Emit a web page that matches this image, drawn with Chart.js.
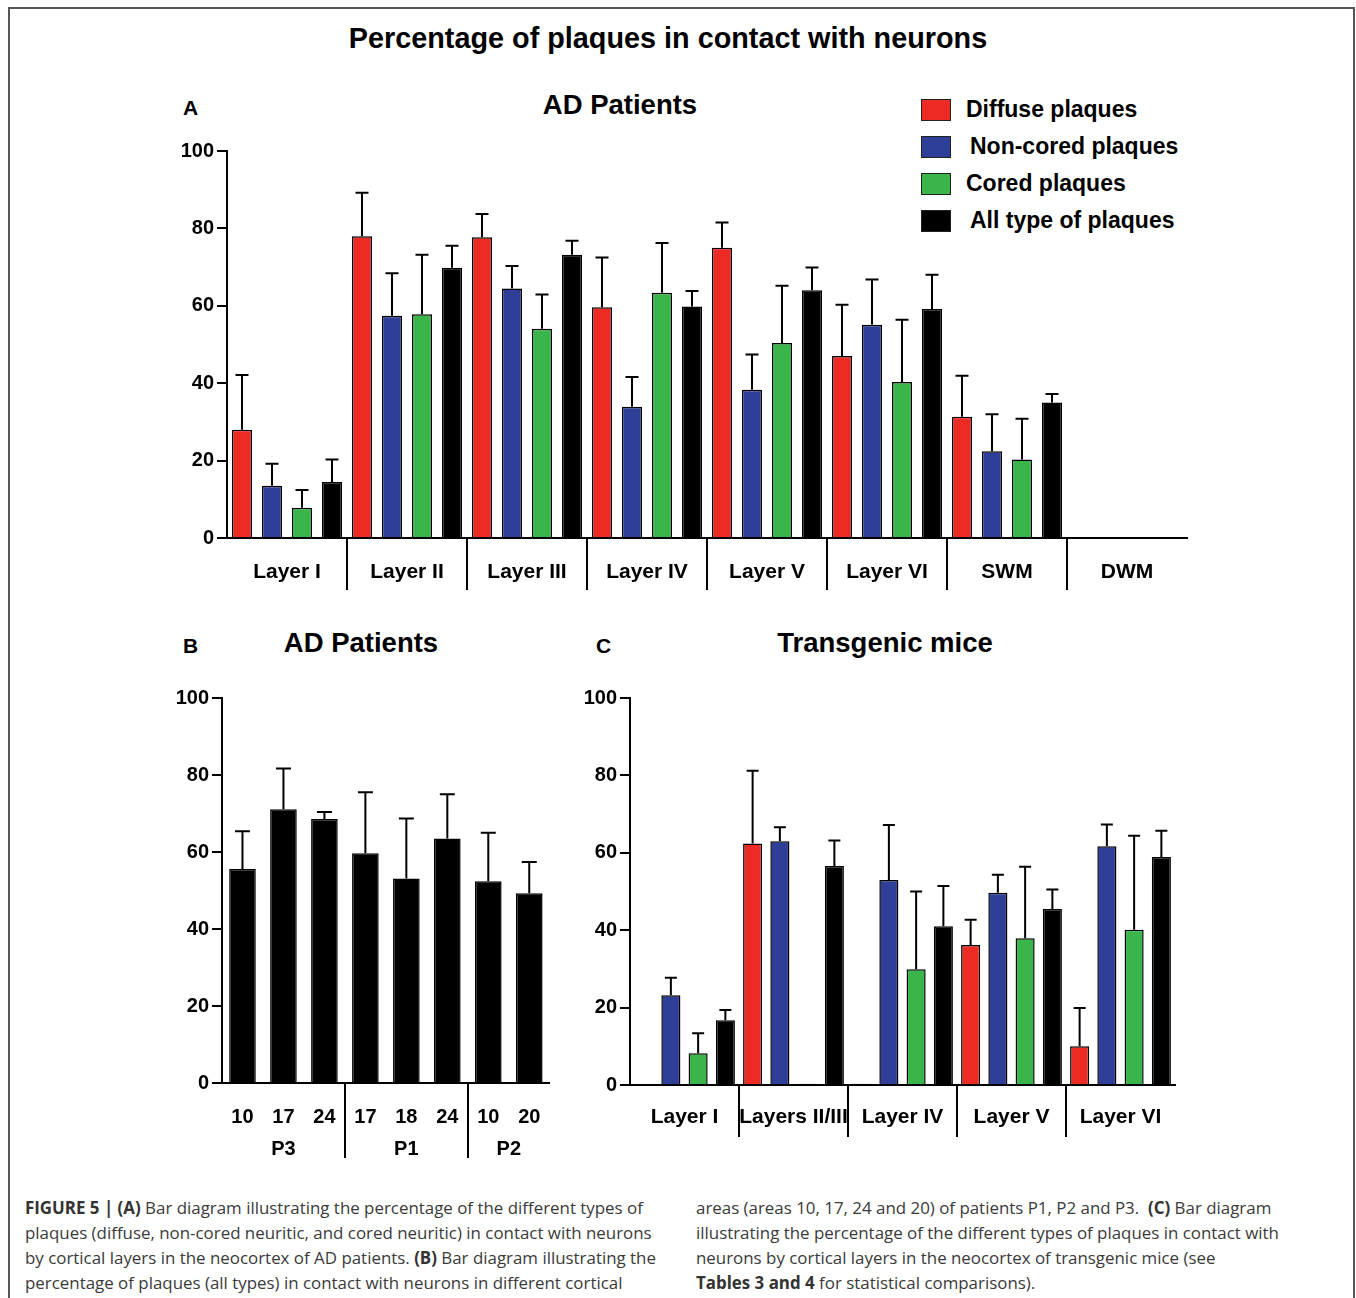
<!DOCTYPE html>
<html>
<head>
<meta charset="utf-8">
<script src="https://cdn.jsdelivr.net/npm/chart.js@4.4.1/dist/chart.umd.min.js"></script>
<style>
  body { margin: 0; background: #fff; }
  #page { position: relative; width: 1356px; height: 1298px; overflow: hidden; font-family: "Liberation Sans", Arial, sans-serif; }
  .frame { position: absolute; left: 8px; top: 7px; width: 1343px; height: 1400px; border: 2px solid #555; }
  .t { position: absolute; font-weight: bold; color: #000; white-space: nowrap; }
  .mid { transform: translateX(-50%); }
  canvas { position: absolute; }
  .leg { position: absolute; left: 921px; }
  .leg i { position: absolute; left: 0; width: 28px; height: 20px; border: 1.5px solid #222; }
  .leg span { position: absolute; left: 45px; top: -1px; font: bold 23px/23px "Liberation Sans", Arial, sans-serif; white-space: nowrap; }
  .cap { position: absolute; font-family: "Open Sans", sans-serif; font-size: 16.9px; line-height: 25px; color: #3a3a3a; white-space: nowrap; }
  .cap b { color: #333; }
</style>
</head>
<body>
<div id="page">
  <div class="frame"></div>

  <div class="t mid" style="left:668px;top:24px;font-size:28.8px;line-height:28px">Percentage of plaques in contact with neurons</div>

  <div class="t" style="left:183px;top:97px;font-size:21px;line-height:21px">A</div>
  <div class="t mid" style="left:620px;top:92px;font-size:27.5px;line-height:26px">AD Patients</div>
  <div id="legendA"></div>

  <div class="t" style="left:183px;top:635px;font-size:21px;line-height:21px">B</div>
  <div class="t mid" style="left:361px;top:630px;font-size:27.5px;line-height:26px">AD Patients</div>

  <div class="t" style="left:596px;top:635px;font-size:21px;line-height:21px">C</div>
  <div class="t mid" style="left:885px;top:630px;font-size:27.5px;line-height:26px">Transgenic mice</div>

  <canvas id="chartA" width="1050" height="473" style="left:150px;top:136px"></canvas>
  <canvas id="chartB" width="413" height="483" style="left:150px;top:683px"></canvas>
  <canvas id="chartC" width="625" height="473" style="left:560px;top:683px"></canvas>

  <div class="cap" style="left:25px;top:1195px">
    <b>FIGURE 5 | (A)</b> Bar diagram illustrating the percentage of the different types of<br>
    plaques (diffuse, non-cored neuritic, and cored neuritic) in contact with neurons<br>
    by cortical layers in the neocortex of AD patients. <b>(B)</b> Bar diagram illustrating the<br>
    percentage of plaques (all types) in contact with neurons in different cortical
  </div>
  <div class="cap" style="left:696px;top:1195px">
    areas (areas 10, 17, 24 and 20) of patients P1, P2 and P3.&nbsp; <b>(C)</b> Bar diagram<br>
    illustrating the percentage of the different types of plaques in contact with<br>
    neurons by cortical layers in the neocortex of transgenic mice (see<br>
    <b>Tables 3 and 4</b> for statistical comparisons).
  </div>
</div>

<script>
const seriesNames  = ['Diffuse plaques', 'Non-cored plaques', 'Cored plaques', 'All type of plaques'];
const seriesColors = ['#ec2b25', '#2f3f97', '#3ab54a', '#000000'];
const yTicks = [0, 20, 40, 60, 80, 100];

// A - AD patients by layer (bar = mean, top = end of error bar)
const aLayers      = ['Layer I', 'Layer II', 'Layer III', 'Layer IV', 'Layer V', 'Layer VI', 'SWM', 'DWM'];
const aDiffuse     = [28.0, 78.0, 77.7, 59.6, 75.0, 47.0, 31.3, null];
const aDiffuseTop  = [42.1, 89.2, 83.7, 72.5, 81.5, 60.3, 41.9, null];
const aNonCored    = [13.5, 57.4, 64.5, 33.9, 38.3, 55.1, 22.4, null];
const aNonCoredTop = [19.2, 68.4, 70.3, 41.6, 47.4, 66.8, 32.0, null];
const aCored       = [7.8, 57.8, 54.1, 63.4, 50.4, 40.3, 20.3, null];
const aCoredTop    = [12.4, 73.2, 62.9, 76.2, 65.2, 56.4, 30.8, null];
const aAll         = [14.5, 69.8, 73.2, 59.8, 64.0, 59.2, 35.0, null];
const aAllTop      = [20.3, 75.5, 76.8, 63.8, 69.9, 68.0, 37.2, null];

// B - AD patients by cortical area
const bAreas     = ['10', '17', '24', '17', '18', '24', '10', '20'];
const bPatients  = ['P3', 'P1', 'P2'];
const bPatientOf = [0, 0, 0, 1, 1, 1, 2, 2];
const bAll       = [55.6, 71.1, 68.6, 59.7, 53.1, 63.5, 52.4, 49.3];
const bAllTop    = [65.4, 81.7, 70.4, 75.5, 68.7, 75.0, 65.0, 57.4];

// C - transgenic mice by layer
const cLayers      = ['Layer I', 'Layers II/III', 'Layer IV', 'Layer V', 'Layer VI'];
const cDiffuse     = [null, 62.4, 0.3, 36.2, 10.0];
const cDiffuseTop  = [null, 81.2, null, 42.7, 19.9];
const cNonCored    = [23.2, 63.0, 53.0, 49.7, 61.7];
const cNonCoredTop = [27.7, 66.6, 67.2, 54.3, 67.3];
const cCored       = [8.2, 0.3, 29.9, 37.9, 40.1];
const cCoredTop    = [13.4, null, 50.0, 56.4, 64.4];
const cAll         = [16.7, 56.6, 41.0, 45.5, 58.9];
const cAllTop      = [19.4, 63.2, 51.4, 50.5, 65.7];

Chart.defaults.font.family = '"Liberation Sans", Arial, sans-serif';
Chart.defaults.font.weight = 'bold';
Chart.defaults.color = '#000';
Chart.defaults.animation = false;

// legend for A (html)
document.getElementById('legendA').innerHTML = seriesNames.map((n, i) =>
  `<div class="leg" style="top:${99 + i * 37}px"><i style="background:${seriesColors[i]}"></i><span style="left:${i % 2 ? 49 : 45}px">${n}</span></div>`
).join('');

// upward error bars
const errorBars = {
  id: 'errorBars',
  afterDatasetsDraw(chart, args, opts) {
    const ctx = chart.ctx, y = chart.scales.y;
    chart.data.datasets.forEach((ds, i) => {
      if (!ds.tops) return;
      chart.getDatasetMeta(i).data.forEach((bar, j) => {
        const top = ds.tops[j];
        if (ds.data[j] == null || top == null) return;
        const py = y.getPixelForValue(top);
        ctx.save();
        ctx.strokeStyle = '#000';
        ctx.lineWidth = 2;
        ctx.beginPath();
        ctx.moveTo(bar.x, bar.y);
        ctx.lineTo(bar.x, py);
        ctx.moveTo(bar.x - opts.cap, py);
        ctx.lineTo(bar.x + opts.cap, py);
        ctx.stroke();
        ctx.restore();
      });
    });
  }
};

// vertical separators under the x axis
const separators = {
  id: 'separators',
  afterDraw(chart, args, opts) {
    const x = chart.scales.x, ctx = chart.ctx, b = chart.chartArea.bottom;
    ctx.save();
    ctx.strokeStyle = '#000';
    ctx.lineWidth = 2;
    opts.at.forEach(i => {
      const px = Math.round((x.getPixelForTick(i - 1) + x.getPixelForTick(i)) / 2);
      ctx.beginPath();
      ctx.moveTo(px, b);
      ctx.lineTo(px, b + opts.length);
      ctx.stroke();
    });
    ctx.restore();
  }
};

// second label row (patients) for B
const groupLabels = {
  id: 'groupLabels',
  afterDraw(chart, args, opts) {
    if (!opts.names) return;
    const x = chart.scales.x, ctx = chart.ctx;
    ctx.save();
    ctx.font = 'bold 20px "Liberation Sans", Arial, sans-serif';
    ctx.fillStyle = '#000';
    ctx.textAlign = 'center';
    ctx.textBaseline = 'middle';
    opts.names.forEach((name, g) => {
      const idx = opts.groupOf.map((v, i) => v === g ? i : -1).filter(i => i >= 0);
      const cx = (x.getPixelForTick(idx[0]) + x.getPixelForTick(idx[idx.length - 1])) / 2;
      ctx.fillText(name, cx, chart.chartArea.bottom + opts.offset);
    });
    ctx.restore();
  }
};

function bars(label, data, tops, color, bp) {
  return { label, data, tops, backgroundColor: color, borderColor: '#000', borderWidth: 1.5,
           barPercentage: bp, categoryPercentage: 1.0 };
}

function opts(yWidth, xHeight, padRight, labelPad, labelSize, extra) {
  return {
    responsive: false,
    layout: { padding: { top: 10, right: padRight, left: 0, bottom: 0 } },
    plugins: Object.assign({ legend: { display: false }, tooltip: { enabled: false } }, extra),
    scales: {
      x: {
        grid: { display: false, drawTicks: false },
        border: { display: true, color: '#000', width: 2 },
        ticks: { font: { size: labelSize, weight: 'bold' }, padding: labelPad, maxRotation: 0, autoSkip: false },
        afterFit: s => { s.height = xHeight; }
      },
      y: {
        min: 0, max: 100,
        afterBuildTicks: s => { s.ticks = yTicks.map(v => ({ value: v })); },
        grid: { drawOnChartArea: false, drawTicks: true, tickLength: 10, color: '#000', lineWidth: 2 },
        border: { display: true, color: '#000', width: 2 },
        ticks: { font: { size: 20, weight: 'bold' }, padding: 3 },
        afterFit: s => { s.width = yWidth; }
      }
    }
  };
}

new Chart(document.getElementById('chartA'), {
  type: 'bar',
  data: {
    labels: aLayers,
    datasets: [
      bars(seriesNames[0], aDiffuse, aDiffuseTop, seriesColors[0], 0.67),
      bars(seriesNames[1], aNonCored, aNonCoredTop, seriesColors[1], 0.67),
      bars(seriesNames[2], aCored, aCoredTop, seriesColors[2], 0.67),
      bars(seriesNames[3], aAll, aAllTop, seriesColors[3], 0.67)
    ]
  },
  options: opts(77, 71, 13, 22, 21, { errorBars: { cap: 6.5 }, separators: { at: [1, 2, 3, 4, 5, 6, 7], length: 52 } }),
  plugins: [errorBars, separators]
});

new Chart(document.getElementById('chartB'), {
  type: 'bar',
  data: {
    labels: bAreas,
    datasets: [ bars('All type of plaques', bAll, bAllTop, '#000000', 0.65) ]
  },
  options: opts(72, 83, 10, 22, 20, {
    errorBars: { cap: 7.5 },
    separators: { at: [3, 6], length: 75 },
    groupLabels: { names: bPatients, groupOf: bPatientOf, offset: 66 }
  }),
  plugins: [errorBars, separators, groupLabels]
});

new Chart(document.getElementById('chartC'), {
  type: 'bar',
  data: {
    labels: cLayers,
    datasets: [
      bars(seriesNames[0], cDiffuse, cDiffuseTop, seriesColors[0], 0.7),
      bars(seriesNames[1], cNonCored, cNonCoredTop, seriesColors[1], 0.7),
      bars(seriesNames[2], cCored, cCoredTop, seriesColors[2], 0.7),
      bars(seriesNames[3], cAll, cAllTop, seriesColors[3], 0.7)
    ]
  },
  options: opts(70, 71, 10, 20, 21, { errorBars: { cap: 6 }, separators: { at: [1, 2, 3, 4], length: 52 } }),
  plugins: [errorBars, separators]
});
</script>
</body>
</html>
